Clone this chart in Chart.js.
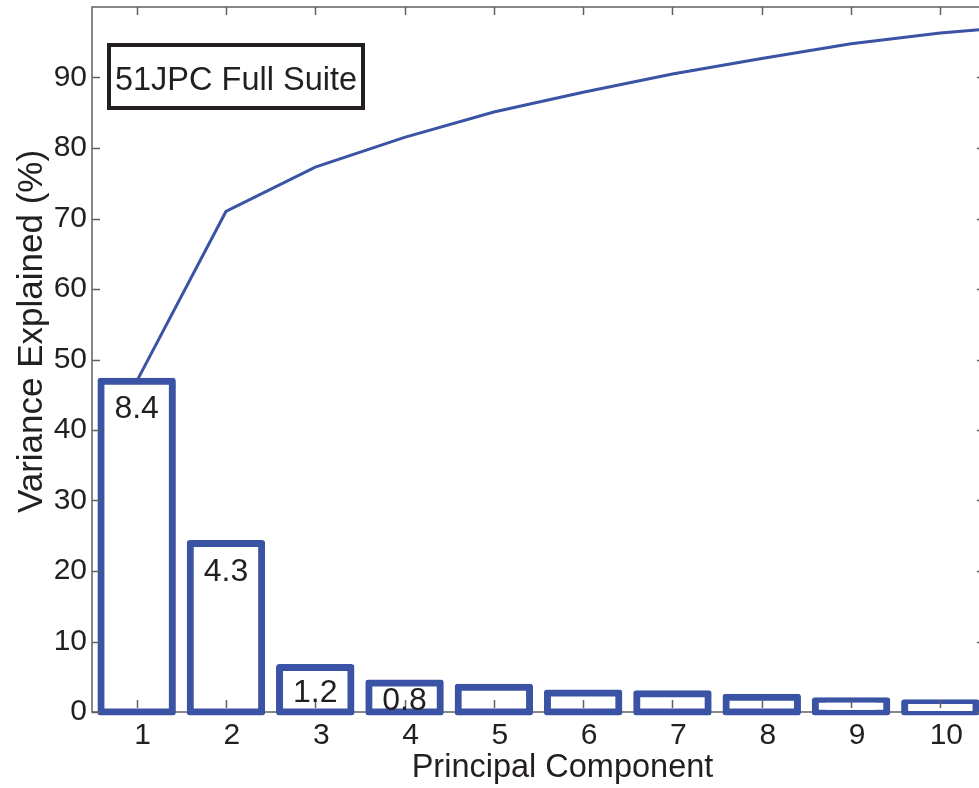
<!DOCTYPE html>
<html>
<head>
<meta charset="utf-8">
<script src="https://cdn.jsdelivr.net/npm/chart.js@4/dist/chart.umd.min.js"></script>
<style>
  html, body { margin: 0; padding: 0; background: #fff; overflow: hidden; }
  #wrap { position: relative; width: 990px; height: 788px; }
</style>
</head>
<body>
<div id="wrap"><canvas id="pca"></canvas></div>
<script>
// Per-component share of variance (%)
const components = [1, 2, 3, 4, 5, 6, 7, 8, 9, 10];
const varianceExplained = [46.9, 23.9, 6.3, 4.1, 3.5, 2.7, 2.6, 2.1, 1.6, 1.3];

// Running total of variance explained (%)
const cumulativeComponents = [1, 2, 3, 4, 5, 6, 7, 8, 9, 10, 11];
const cumulativeVariance = [46.9, 71.0, 77.3, 81.5, 85.1, 87.9, 90.5, 92.7, 94.8, 96.3, 97.4];

// Eigenvalues printed inside the leading bars
const eigenvalueLabels = ['8.4', '4.3', '1.2', '0.8'];

// Axis ticks and texts
const xTickValues = [1, 2, 3, 4, 5, 6, 7, 8, 9, 10];
const yTickValues = [0, 10, 20, 30, 40, 50, 60, 70, 80, 90];
const panelTitle = '51JPC Full Suite';
const xAxisTitle = 'Principal Component';
const yAxisTitle = 'Variance Explained (%)';

const BLUE = '#3a53a4';
const INK = '#231f20';
const AXIS = '#616161';
const FONT = '"Liberation Sans", Arial, Helvetica, sans-serif';

// Boxed axes with inward tick marks, axis titles, the panel tag and bar notes
const framePlugin = {
  id: 'frame',
  beforeDatasetsDraw(chart) {
    const { ctx, chartArea: a } = chart;
    ctx.save();
    ctx.strokeStyle = AXIS;
    ctx.lineWidth = 1.5;
    ctx.strokeRect(a.left, a.top, a.right - a.left, a.bottom - a.top);
    ctx.restore();
  },
  afterDatasetsDraw(chart, args, opts) {
    const { ctx, chartArea: a, scales: { x, y } } = chart;
    const len = 8;
    ctx.save();
    ctx.strokeStyle = AXIS;
    ctx.lineWidth = 1.5;
    ctx.beginPath();
    xTickValues.forEach(v => {
      const px = Math.round(x.getPixelForValue(v)) + 0.5;
      ctx.moveTo(px, a.bottom - 4); ctx.lineTo(px, a.bottom - 4 - len);
      ctx.moveTo(px, a.top); ctx.lineTo(px, a.top + len);
    });
    yTickValues.forEach(v => {
      const py = Math.round(y.getPixelForValue(v)) + 0.5;
      ctx.moveTo(a.left, py); ctx.lineTo(a.left + len, py);
      ctx.moveTo(a.right, py); ctx.lineTo(a.right - len, py);
    });
    ctx.stroke();

    // eigenvalue notes inside the bars
    ctx.fillStyle = INK;
    ctx.font = '32px ' + FONT;
    ctx.textAlign = 'center';
    ctx.textBaseline = 'alphabetic';
    eigenvalueLabels.forEach((t, i) => {
      const px = x.getPixelForValue(components[i]);
      const py = y.getPixelForValue(opts.noteAnchors[i]) + 11.5;
      ctx.fillText(t, px, py);
    });
    ctx.restore();
  },
  afterDraw(chart) {
    const { ctx, chartArea: a } = chart;
    ctx.save();
    ctx.fillStyle = INK;

    // x axis title
    ctx.font = '32.5px ' + FONT;
    ctx.textAlign = 'center';
    ctx.textBaseline = 'alphabetic';
    ctx.fillText(xAxisTitle, (a.left + a.right) / 2 + 24, a.bottom + 65);

    // y axis title
    ctx.save();
    ctx.translate(42, (a.top + a.bottom) / 2 - 28);
    ctx.rotate(-Math.PI / 2);
    ctx.font = '35px ' + FONT;
    ctx.fillText(yAxisTitle, 0, 0);
    ctx.restore();

    // panel tag
    const bx = a.left + 17, by = a.top + 38, bw = 254, bh = 63;
    ctx.fillStyle = '#fff';
    ctx.fillRect(bx, by, bw, bh);
    ctx.strokeStyle = INK;
    ctx.lineWidth = 4;
    ctx.strokeRect(bx, by, bw, bh);
    ctx.fillStyle = INK;
    ctx.font = '32.5px ' + FONT;
    ctx.textAlign = 'center';
    ctx.fillText(panelTitle, bx + bw / 2, by + 45);
    ctx.restore();
  }
};

const tickFont = { family: FONT, size: 30 };

const noEdgePadding = s => {
  s.paddingTop = 0; s.paddingBottom = 0; s.paddingLeft = 0; s.paddingRight = 0;
};

new Chart(document.getElementById('pca'), {
  data: {
    datasets: [
      {
        type: 'line',
        label: 'Cumulative',
        data: cumulativeComponents.map((c, i) => ({ x: c, y: cumulativeVariance[i] })),
        borderColor: BLUE,
        borderWidth: 3,
        pointRadius: 0,
        tension: 0,
        fill: false,
        order: 0
      },
      {
        type: 'bar',
        label: 'Component',
        data: components.map((c, i) => ({ x: c, y: varianceExplained[i] })),
        backgroundColor: '#ffffff',
        borderColor: BLUE,
        borderWidth: 7,
        borderSkipped: false,
        borderRadius: 3,
        inflateAmount: 3.5,
        barPercentage: 0.8,
        categoryPercentage: 1,
        clip: 8,
        order: 1
      }
    ]
  },
  options: {
    responsive: true,
    maintainAspectRatio: false,
    animation: false,
    layout: { padding: { top: 7, right: 5, left: 0, bottom: 0 } },
    plugins: {
      legend: { display: false },
      tooltip: { enabled: false },
      frame: { noteAnchors: [43.4, 20.2, 3.1, 1.85] }
    },
    scales: {
      x: {
        type: 'linear',
        offset: false,
        min: 0.5,
        max: 10.5,
        grid: { display: false, drawTicks: false, offset: false },
        border: { display: false },
        ticks: { font: tickFont, color: INK, padding: 6, labelOffset: 6, maxRotation: 0, autoSkip: false },
        afterBuildTicks: s => { s.ticks = xTickValues.map(v => ({ value: v })); },
        afterFit: s => { s.height = 76; noEdgePadding(s); }
      },
      y: {
        type: 'linear',
        min: 0,
        max: 100,
        grid: { display: false, drawTicks: false },
        border: { display: false },
        ticks: { font: tickFont, color: INK, padding: 5 },
        afterBuildTicks: s => { s.ticks = yTickValues.map(v => ({ value: v })); },
        afterFit: s => { s.width = 92; noEdgePadding(s); }
      }
    }
  },
  plugins: [framePlugin]
});
</script>
</body>
</html>
